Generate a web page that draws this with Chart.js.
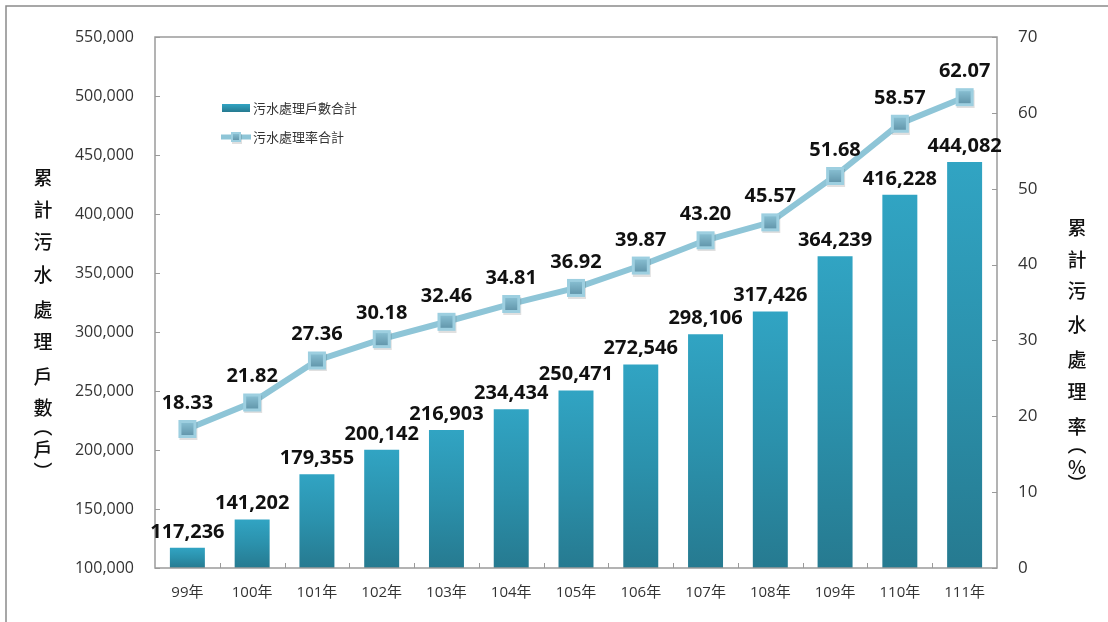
<!DOCTYPE html>
<html>
<head>
<meta charset="utf-8">
<script src="https://cdn.jsdelivr.net/npm/chart.js@4/dist/chart.umd.min.js"></script>
<style>
  html, body { margin:0; padding:0; background:#fff; }
  #wrap { width:1108px; height:622px; position:relative; }
</style>
</head>
<body>
<div id="wrap"><canvas id="c" width="1108" height="622"></canvas></div>
<script>
const categories = ['99年','100年','101年','102年','103年','104年','105年','106年','107年','108年','109年','110年','111年'];
const households = [117236,141202,179355,200142,216903,234434,250471,272546,298106,317426,364239,416228,444082];
const rates = [18.33,21.82,27.36,30.18,32.46,34.81,36.92,39.87,43.20,45.57,51.68,58.57,62.07];
const leftTicks = [100000,150000,200000,250000,300000,350000,400000,450000,500000,550000];
const rightTicks = [0,10,20,30,40,50,60,70];
const barLabel = '污水處理戶數合計';
const lineLabel = '污水處理率合計';
const leftTitle = ['累','計','污','水','處','理','戶','數','︵','戶','︶'];
const rightTitle = ['累','計','污','水','處','理','率','︵','%','︶'];

const FONT = '"Open Sans", "Noto Sans CJK TC", sans-serif';
const CJK = '"Noto Sans CJK TC", "Open Sans", sans-serif';
const LINE_COLOR = '#8ec5d7';

function makeMarker(size) {
  const pad = 2;
  const cv = document.createElement('canvas');
  cv.width = size + pad * 2; cv.height = size + pad * 2;
  const g = cv.getContext('2d');
  // soft shadow
  g.fillStyle = 'rgba(0,0,0,0.12)';
  g.fillRect(pad + 1, pad + 2, size, size);
  // outer light frame
  g.fillStyle = '#9dcfe0';
  g.fillRect(pad, pad, size, size);
  // inner gradient
  const inset = Math.max(2, Math.round(size * 0.14));
  const lg = g.createLinearGradient(0, pad + inset, 0, pad + size - inset);
  lg.addColorStop(0, '#86bdd0');
  lg.addColorStop(1, '#6498ad');
  g.fillStyle = lg;
  g.fillRect(pad + inset, pad + inset, size - 2 * inset, size - 2 * inset);
  return cv;
}
const marker = makeMarker(18);
const smallMarker = makeMarker(10);

function fmt(n) { return n.toLocaleString('en-US'); }

function barGradient(ctx) {
  const chart = ctx.chart;
  const ys = chart.scales && chart.scales.y;
  if (!ys || ctx.dataIndex === undefined || !chart.chartArea) return '#2b93ad';
  const top = ys.getPixelForValue(households[ctx.dataIndex]);
  const bottom = chart.chartArea.bottom;
  const g = chart.ctx.createLinearGradient(0, top, 0, bottom);
  g.addColorStop(0, '#31a4c3');
  g.addColorStop(0.5, '#2b91ac');
  g.addColorStop(1, '#267a90');
  return g;
}

const decor = {
  id: 'decor',
  beforeDraw(chart) {
    const c = chart.ctx;
    c.save();
    c.fillStyle = '#fff';
    c.fillRect(0, 0, chart.width, chart.height);
    c.strokeStyle = '#8a8a8a';
    c.lineWidth = 1.5;
    c.beginPath();
    c.moveTo(6, 622); c.lineTo(6, 6); c.lineTo(1108, 6);
    c.stroke();
    c.restore();
  },
  afterDatasetsDraw(chart) {
    const c = chart.ctx;
    const a = chart.chartArea;
    const xs = chart.scales.x, ys = chart.scales.y, y1 = chart.scales.y1;
    c.save();
    c.strokeStyle = '#9a9a9a';
    c.lineWidth = 1.5;
    c.strokeRect(a.left, a.top, a.right - a.left, a.bottom - a.top);
    c.lineWidth = 1;
    c.beginPath();
    leftTicks.forEach(v => {
      const y = Math.round(ys.getPixelForValue(v)) + 0.5;
      c.moveTo(a.left, y); c.lineTo(a.left + 5, y);
    });
    rightTicks.forEach(v => {
      const y = Math.round(y1.getPixelForValue(v)) + 0.5;
      c.moveTo(a.right, y); c.lineTo(a.right - 5, y);
    });
    const w = (a.right - a.left) / categories.length;
    for (let k = 1; k < categories.length; k++) {
      const x = Math.round(a.left + k * w) + 0.5;
      c.moveTo(x, a.bottom); c.lineTo(x, a.bottom - 5);
    }
    c.stroke();

    c.fillStyle = '#111';
    c.font = 'bold 20px ' + FONT;
    c.textAlign = 'center';
    c.textBaseline = 'alphabetic';
    households.forEach((v, i) => {
      const x = xs.getPixelForValue(i);
      const y = ys.getPixelForValue(v);
      c.fillText(fmt(v), x, y - 10);
    });
    rates.forEach((v, i) => {
      const x = xs.getPixelForValue(i);
      const y = y1.getPixelForValue(v);
      c.fillText(v.toFixed(2), x, y - 20);
    });

    const lg = c.createLinearGradient(0, 104, 0, 112);
    lg.addColorStop(0, '#31a4c3'); lg.addColorStop(1, '#267a90');
    c.fillStyle = lg;
    c.fillRect(222, 104, 28, 8);
    c.strokeStyle = LINE_COLOR;
    c.lineWidth = 5;
    c.beginPath(); c.moveTo(221, 137); c.lineTo(251, 137); c.stroke();
    c.drawImage(smallMarker, 236 - smallMarker.width / 2, 137 - smallMarker.height / 2);
    c.fillStyle = '#333';
    c.font = '13px ' + CJK;
    c.textAlign = 'left';
    c.textBaseline = 'middle';
    c.fillText(barLabel, 253, 108);
    c.fillText(lineLabel, 253, 137);

    c.fillStyle = '#111';
    c.font = '500 19px ' + CJK;
    c.textAlign = 'center';
    const leftY = [178,210,242,275,310,342,377,408,427,450,472];
    leftTitle.forEach((ch, i) => c.fillText(ch, 43, leftY[i]));
    const rightY = [228,260,291,325,360,392,427,445,467,484];
    rightTitle.forEach((ch, i) => c.fillText(ch, 1077, rightY[i]));
    c.restore();
  }
};

new Chart(document.getElementById('c'), {
  type: 'bar',
  data: {
    labels: categories,
    datasets: [
      {
        type: 'line',
        label: lineLabel,
        data: rates,
        yAxisID: 'y1',
        borderColor: LINE_COLOR,
        borderWidth: 6,
        pointStyle: marker,
        pointRadius: 10,
        pointHoverRadius: 10,
        tension: 0,
        order: 0
      },
      {
        type: 'bar',
        label: barLabel,
        data: households,
        yAxisID: 'y',
        backgroundColor: barGradient,
        borderWidth: 0,
        barPercentage: 0.54,
        categoryPercentage: 1.0,
        order: 1
      }
    ]
  },
  options: {
    responsive: false,
    animation: false,
    devicePixelRatio: 1,
    layout: { padding: { top: 37, left: 0, right: 0, bottom: 0 } },
    plugins: { legend: { display: false }, tooltip: { enabled: false } },
    scales: {
      x: {
        grid: { display: false, drawTicks: false },
        border: { display: false },
        ticks: { font: { family: FONT, size: 15 }, color: '#333', padding: 16, maxRotation: 0 },
        afterFit(s) { s.height = 54; }
      },
      y: {
        position: 'left',
        min: 100000, max: 550000,
        afterBuildTicks(s) { s.ticks = leftTicks.map(v => ({ value: v })); },
        grid: { display: false, drawTicks: false },
        border: { display: false },
        ticks: { font: { family: FONT, size: 16 }, color: '#333', padding: 21, callback: v => fmt(v) },
        afterFit(s) { s.width = 155; }
      },
      y1: {
        position: 'right',
        min: 0, max: 70,
        afterBuildTicks(s) { s.ticks = rightTicks.map(v => ({ value: v })); },
        grid: { display: false, drawTicks: false },
        border: { display: false },
        ticks: { font: { family: FONT, size: 17 }, color: '#333', padding: 21 },
        afterFit(s) { s.width = 111; }
      }
    }
  },
  plugins: [decor]
});
</script>
</body>
</html>
